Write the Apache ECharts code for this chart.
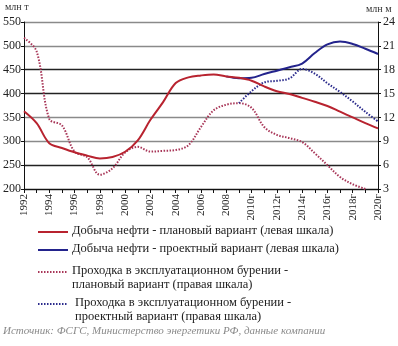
<!DOCTYPE html>
<html><head><meta charset="utf-8">
<script src="https://cdn.jsdelivr.net/npm/echarts@6/dist/echarts.min.js"></script>
<style>html,body{margin:0;padding:0;background:#fff}#c{width:398px;height:346px}</style>
</head><body><div id="c"></div>
<script>
const years = ['1992','1993','1994','1995','1996','1997','1998','1999','2000','2001','2002','2003','2004','2005','2006','2007','2008','2009','2010г','2011г','2012г','2013г','2014г','2015г','2016г','2017г','2018г','2019г','2020г'];
const leftTicks = [200,250,300,350,400,450,500,550];
const rightTicks = [3,6,9,12,15,18,21,24];
const oilPlan = [363,338,296,286,277,270,264,267,278,302,345,382,422,434,438,440,436,433,427,415,405,399,391,383,374,362,350,338,327];
const oilProject = [null,null,null,null,null,null,null,null,null,null,null,null,null,null,null,null,436,432,433,441,448,455,463,485,503,509,504,494,483];
const drillPlan = [22.0,20.3,11.8,11.0,7.7,7.0,4.8,5.6,7.6,8.3,7.7,7.8,7.9,8.5,10.8,12.9,13.6,13.8,13.2,10.8,9.8,9.4,8.9,7.5,6.0,4.5,3.6,3.0,null];
const drillProject = [null,null,null,null,null,null,null,null,null,null,null,null,null,null,null,null,null,13.8,15.3,16.4,16.6,16.9,18.1,17.5,16.3,15.2,14.0,12.7,11.5];
const legendNames = ['Добыча нефти - плановый вариант (левая шкала)','Добыча нефти - проектный вариант (левая шкала)','Проходка в эксплуатационном бурении -\nплановый вариант (правая шкала)','Проходка в эксплуатационном бурении -\nпроектный вариант (правая шкала)'];
const sourceText = 'Источник: ФСГС, Министерство энергетики РФ, данные компании';

const RED = '#b8232f', BLUE = '#23238c', RED_D = '#a83658', BLUE_D = '#2b2b8c';
const serif = '"Liberation Serif","DejaVu Serif",serif';
const chart = echarts.init(document.getElementById('c'), null, {renderer:'canvas'});
const legendY = [232, 250, 272, 304];
const legendCols = [RED, BLUE, RED_D, BLUE_D];
const graphics = [];
legendNames.forEach((n,i)=>{
  graphics.push({type:'line', shape:{x1:38,y1:legendY[i],x2:68,y2:legendY[i]}, style:{stroke:legendCols[i], lineWidth:2, lineDash: i>=2?[1.5,1.5]:null}});
  graphics.push({type:'text', left: i===3?75:72, top: legendY[i]-8, style:{text:n, font:'12.5px '+serif, fill:'#222', lineHeight: 14}});
});
graphics.push({type:'text', left:3, top:326, style:{text:sourceText, font:'italic 11px '+serif, fill:'#8a8a8a'}});
graphics.push({type:'text', left:5, top:2, style:{text:'млн т', font:'10px '+serif, fill:'#333'}});
graphics.push({type:'text', left:366, top:4, style:{text:'млн м', font:'10px '+serif, fill:'#333'}});

chart.setOption({
  animation:false,
  grid:{left:24, right:18, top:22, bottom:157, containLabel:false},
  xAxis:{type:'category', data:years, boundaryGap:false,
    axisLine:{lineStyle:{color:'#111', width:1}},
    axisTick:{show:true, length:4, interval:0, lineStyle:{color:'#111'}},
    axisLabel:{rotate:90, interval:1, margin:5, fontSize:11, fontFamily:serif, color:'#222'},
    splitLine:{show:false}},
  yAxis:[
    {type:'value', min:leftTicks[0], max:leftTicks[leftTicks.length-1], interval:50, position:'left',
     axisLine:{show:true, lineStyle:{color:'#111'}}, axisTick:{show:true, length:3, lineStyle:{color:'#111'}},
     axisLabel:{fontSize:12, fontFamily:serif, color:'#222', margin:3},
     splitLine:{show:true, lineStyle:{color:['#222','#222','#8a8a8a','#8a8a8a','#222','#222','#8a8a8a','#8a8a8a'], width:1.3}}},
    {type:'value', min:rightTicks[0], max:rightTicks[rightTicks.length-1], interval:3, position:'right',
     axisLine:{show:true, lineStyle:{color:'#111'}}, axisTick:{show:true, length:3, lineStyle:{color:'#111'}},
     axisLabel:{fontSize:12, fontFamily:serif, color:'#222', margin:5},
     splitLine:{show:false}}
  ],
  series:[
    {name:legendNames[2], type:'line', yAxisIndex:1, data:drillPlan, smooth:0.35, symbol:'none', lineStyle:{color:RED_D, width:2, type:[1.5,1.5]}},
    {name:legendNames[3], type:'line', yAxisIndex:1, data:drillProject, smooth:0.35, symbol:'none', lineStyle:{color:BLUE_D, width:2, type:[1.5,1.5]}},
    {name:legendNames[1], type:'line', yAxisIndex:0, data:oilProject, smooth:0.35, symbol:'none', lineStyle:{color:BLUE, width:2}},
    {name:legendNames[0], type:'line', yAxisIndex:0, data:oilPlan, smooth:0.35, symbol:'none', lineStyle:{color:RED, width:2}}
  ],
  graphic:graphics
});
</script></body></html>
